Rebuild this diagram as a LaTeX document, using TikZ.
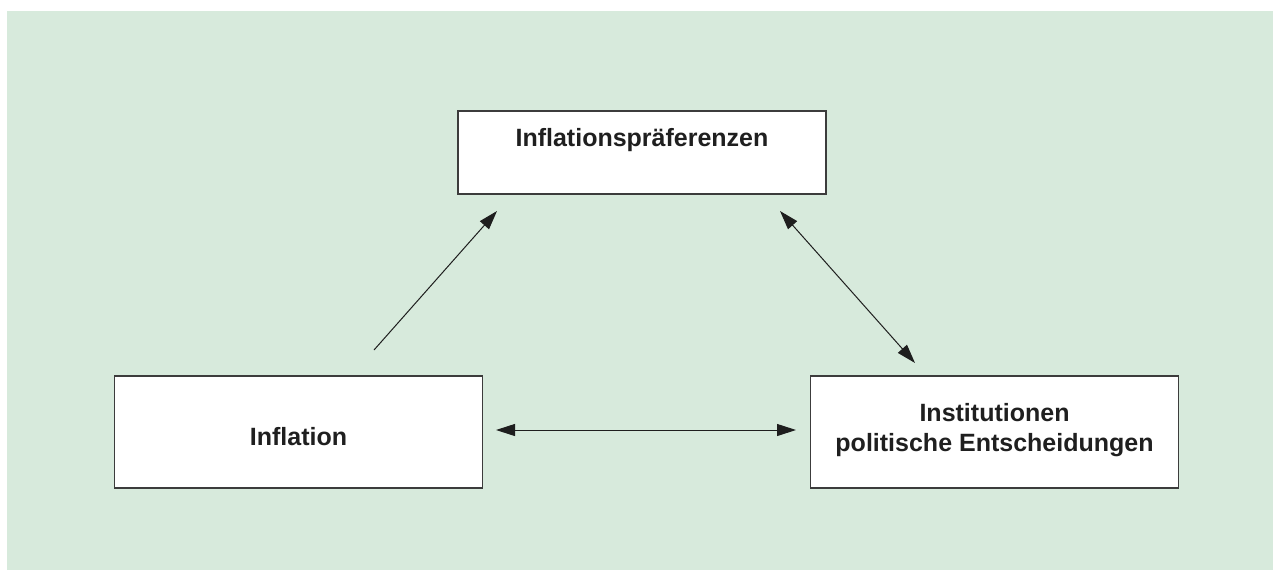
\documentclass[tikz,border=0pt]{standalone}
\usepackage{fontspec}
\setmainfont{Liberation Sans}
\usetikzlibrary{arrows.meta}
\definecolor{bggreen}{HTML}{D7EADC}
\definecolor{boxline}{HTML}{3C3C3C}
\definecolor{arrowline}{HTML}{1E1E1E}
\tikzset{
  box/.style={draw=boxline, line width=1.5pt, fill=white, minimum width=368pt, minimum height=#1, inner sep=0pt},
  boxtext/.style={inner sep=0pt, align=center, font=\fontsize{25pt}{30pt}\selectfont\bfseries, text=black!88},
  conn/.style={draw=arrowline, line width=1pt},
  tip/.style={-{Triangle[length=19pt,width=12pt]}},
  dtip/.style={{Triangle[length=19pt,width=12pt]}-{Triangle[length=19pt,width=12pt]}}
}
\begin{document}
\begin{tikzpicture}[x=1pt,y=-1pt]
\useasboundingbox (0,0) rectangle (1273,570);
\fill[bggreen] (7,11) rectangle (1273,570);
\node[box=83pt] (pref) at (642,152.5) {};
\node[boxtext] (preft) at ([yshift=12pt]pref.center) {Inflationspräferenzen};
\node[box=112pt] (infl) at (298.5,432) {};
\node[boxtext] (inflt) at ([yshift=-5pt]infl.center) {Inflation};
\node[box=112pt] (inst) at (994.5,432) {};
\node[boxtext] (instt) at ([yshift=2pt]inst.center) {Institutionen\\politische Entscheidungen};
\coordinate (a1s) at (374,350);
\coordinate (a1e) at (497,211);
\coordinate (a2s) at (780,211);
\coordinate (a2e) at (915,363);
\coordinate (a3s) at (496,430);
\coordinate (a3e) at (796,430);
\draw[conn,tip] (a1s) -- (a1e);
\draw[conn,dtip] (a2s) -- (a2e);
\draw[conn,dtip] (a3s) -- (a3e);
\end{tikzpicture}
\end{document}
